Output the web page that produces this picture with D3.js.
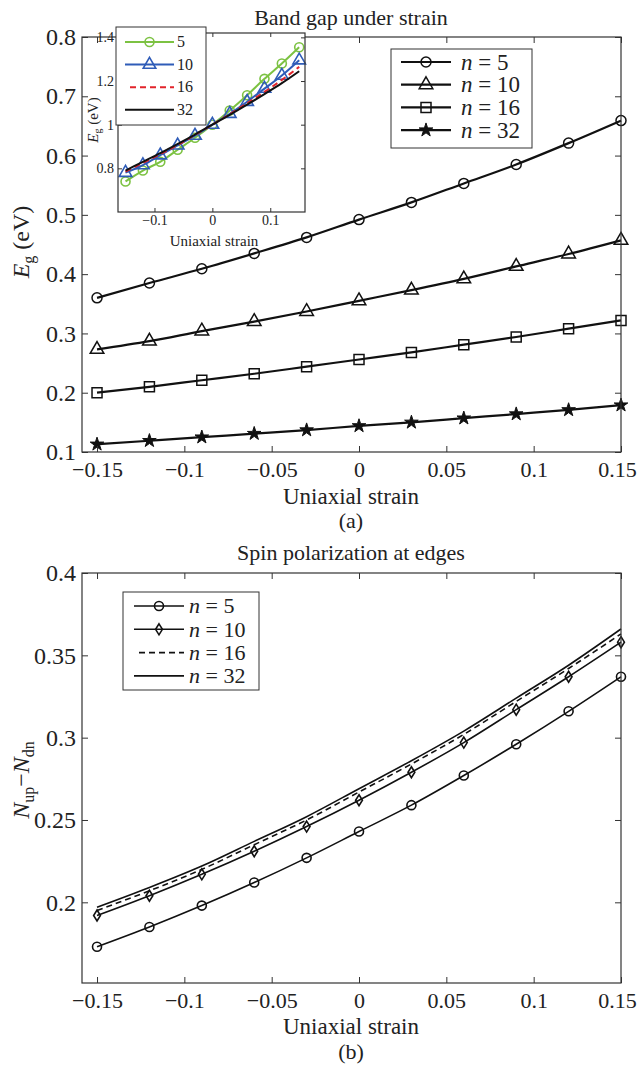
<!DOCTYPE html>
<html>
<head>
<meta charset="utf-8">
<script src="https://cdn.jsdelivr.net/npm/d3@7"></script>
<style>
  body { margin: 0; background: #fff; }
  svg text { font-family: "Liberation Serif", "Times New Roman", serif !important; fill: #222; }
</style>
</head>
<body>
<script>
// strain sample points (shared by every series)
const strainPts = [-0.15, -0.12, -0.09, -0.06, -0.03, 0, 0.03, 0.06, 0.09, 0.12, 0.15];

// (a) band gap, eV
const gapN5 = [0.360, 0.385, 0.409, 0.435, 0.462, 0.492, 0.521, 0.553, 0.585, 0.621, 0.659];
const gapN10 = [0.273, 0.287, 0.304, 0.320, 0.337, 0.355, 0.373, 0.392, 0.413, 0.434, 0.457];
const gapN16 = [0.200, 0.210, 0.221, 0.232, 0.244, 0.256, 0.268, 0.281, 0.294, 0.308, 0.322];
const gapN32 = [0.113, 0.119, 0.125, 0.131, 0.137, 0.144, 0.150, 0.157, 0.164, 0.171, 0.179];

// (a) inset, normalised gap
const insetN5 = [0.74, 0.79, 0.83, 0.885, 0.94, 1.0, 1.065, 1.135, 1.21, 1.28, 1.355];
const insetN10 = [0.78, 0.815, 0.86, 0.905, 0.95, 1.0, 1.05, 1.105, 1.165, 1.225, 1.295];
const insetN16 = [0.785, 0.825, 0.865, 0.907, 0.953, 1.0, 1.048, 1.098, 1.15, 1.205, 1.265];
const insetN32 = [0.79, 0.83, 0.87, 0.912, 0.955, 1.0, 1.045, 1.092, 1.14, 1.19, 1.245];

// (b) spin polarization
const spinN5 = [0.173, 0.185, 0.198, 0.212, 0.227, 0.243, 0.259, 0.277, 0.296, 0.316, 0.337];
const spinN10 = [0.192, 0.204, 0.217, 0.231, 0.246, 0.262, 0.279, 0.297, 0.317, 0.337, 0.358];
const spinN16 = [0.195, 0.207, 0.220, 0.235, 0.250, 0.267, 0.284, 0.302, 0.322, 0.342, 0.363];
const spinN32 = [0.197, 0.209, 0.222, 0.237, 0.252, 0.269, 0.286, 0.304, 0.324, 0.344, 0.366];

// ticks
const xTicks = [-0.15, -0.1, -0.05, 0, 0.05, 0.1, 0.15];
const gapTicks = [0.1, 0.2, 0.3, 0.4, 0.5, 0.6, 0.7, 0.8];
const spinTicks = [0.2, 0.25, 0.3, 0.35, 0.4];
const insetXTicks = [-0.1, 0, 0.1];
const insetYTicks = [0.8, 1, 1.2, 1.4];

const width = 639, height = 1077;
const fmt = d3.format("~g");
const serif = '"Liberation Serif", "Times New Roman", serif';

const svg = d3.select("body").append("svg")
  .attr("width", width)
  .attr("height", height)
  .attr("viewBox", `0 0 ${width} ${height}`)
  .attr("font-family", serif);

svg.append("rect").attr("width", width).attr("height", height).attr("fill", "#fff");

// frame + inward ticks on all four sides, MATLAB style
function drawFrame(g, x, y, xt, yt, opts) {
  const [x0, x1] = x.range();
  const [y0, y1] = y.range(); // y0 bottom
  const tl = opts.tick;
  const xAxis = g.append("g").attr("transform", `translate(0,${y0})`)
    .call(d3.axisBottom(x).tickValues(xt).tickSizeInner(-tl).tickSizeOuter(0)
      .tickPadding(opts.xPad).tickFormat(fmt))
    .call(a => a.attr("font-family", serif).select(".domain").remove())
    .call(a => a.selectAll("text").attr("font-size", opts.xFont || opts.font).attr("fill", "#222"));
  // keep the rightmost label inside the page
  if (opts.lastDx) xAxis.selectAll("text").filter((d, i, n) => i === n.length - 1).attr("dx", opts.lastDx);
  g.append("g").attr("transform", `translate(0,${y1})`)
    .call(d3.axisTop(x).tickValues(xt).tickSizeInner(-tl).tickSizeOuter(0).tickFormat(""))
    .call(a => a.select(".domain").remove());
  g.append("g").attr("transform", `translate(${x0},0)`)
    .call(d3.axisLeft(y).tickValues(yt).tickSizeInner(-tl).tickSizeOuter(0)
      .tickPadding(opts.yPad).tickFormat(fmt))
    .call(a => a.attr("font-family", serif).select(".domain").remove())
    .call(a => a.selectAll("text").attr("font-size", opts.font).attr("fill", "#222"));
  g.append("g").attr("transform", `translate(${x1},0)`)
    .call(d3.axisRight(y).tickValues(yt).tickSizeInner(-tl).tickSizeOuter(0).tickFormat(""))
    .call(a => a.select(".domain").remove());
  g.selectAll(".tick line").attr("stroke", "#333").attr("stroke-width", 1);
  g.append("rect")
    .attr("x", x0).attr("y", y1).attr("width", x1 - x0).attr("height", y0 - y1)
    .attr("fill", "none").attr("stroke", "#333").attr("stroke-width", 1.2);
}

const markerPath = {
  circle: r => d3.symbol(d3.symbolCircle, Math.PI * r * r)(),
  triangle: r => d3.symbol(d3.symbolTriangle, r * r * 1.9)(),
  square: r => d3.symbol(d3.symbolSquare, 4 * r * r)(),
  star: r => d3.symbol(d3.symbolStar, r * r * 1.6)(),
  diamond: r => `M0,${-r}L${r * 0.62},0L0,${r}L${-r * 0.62},0Z`,
};

function drawSeries(g, x, y, vals, s) {
  const pts = strainPts.map((t, i) => [t, vals[i]]);
  const line = d3.line().x(d => x(d[0])).y(d => y(d[1])).curve(d3.curveMonotoneX);
  g.append("path").datum(pts).attr("d", line)
    .attr("fill", "none").attr("stroke", s.color).attr("stroke-width", s.width)
    .attr("stroke-dasharray", s.dash || null);
  if (s.marker) {
    g.selectAll(null).data(pts).join("path")
      .attr("transform", d => `translate(${x(d[0])},${y(d[1])})`)
      .attr("d", markerPath[s.marker](s.size))
      .attr("fill", s.fill || "none")
      .attr("stroke", s.color).attr("stroke-width", s.mw || 1.5);
  }
}

function drawLegend(g, box, rows, opts) {
  g.append("rect").attr("x", box.x).attr("y", box.y).attr("width", box.w).attr("height", box.h)
    .attr("fill", "#fff").attr("stroke", "#333").attr("stroke-width", 1);
  rows.forEach((r, i) => {
    const yy = opts.y0 + i * opts.dy;
    g.append("line").attr("x1", r.s.dash ? opts.lx0 + 5 : opts.lx0).attr("x2", opts.lx1)
      .attr("y1", yy).attr("y2", yy)
      .attr("stroke", r.s.color).attr("stroke-width", r.s.width)
      .attr("stroke-dasharray", r.s.dash || null);
    if (r.s.marker) {
      g.append("path").attr("transform", `translate(${(opts.lx0 + opts.lx1) / 2},${yy})`)
        .attr("d", markerPath[r.s.marker](r.s.size))
        .attr("fill", r.s.fill || "none").attr("stroke", r.s.color)
        .attr("stroke-width", r.s.mw || 1.5);
    }
    const t = g.append("text").attr("x", opts.tx).attr("y", yy + opts.font * 0.33)
      .attr("font-size", opts.font);
    if (opts.italicN) {
      t.append("tspan").attr("font-style", "italic").text("n");
      t.append("tspan").text(" = " + r.label);
    } else {
      t.text(r.label);
    }
  });
}

// ---------------- (a) band gap ----------------
const xa = d3.scaleLinear().domain([-0.1586, 0.15]).range([82, 621]);
const ya = d3.scaleLinear().domain([0.1, 0.8]).range([452, 37]);
const ga = svg.append("g");

const gapStyles = [
  { vals: gapN5, label: "5", s: { color: "#111", width: 2.2, marker: "circle", size: 5 } },
  { vals: gapN10, label: "10", s: { color: "#111", width: 2.2, marker: "triangle", size: 6.5 } },
  { vals: gapN16, label: "16", s: { color: "#111", width: 2.2, marker: "square", size: 5 } },
  { vals: gapN32, label: "32", s: { color: "#111", width: 2.2, marker: "star", size: 6, fill: "#111", mw: 1 } },
];
gapStyles.forEach(d => drawSeries(ga, xa, ya, d.vals, d.s));
drawFrame(ga, xa, ya, xTicks, gapTicks, { tick: 6, font: 24, xFont: 22, xPad: 9, yPad: 6, lastDx: -4 });

ga.append("text").attr("x", 351).attr("y", 25).attr("text-anchor", "middle")
  .attr("font-size", 22).text("Band gap under strain");
ga.append("text").attr("x", 351).attr("y", 504).attr("text-anchor", "middle")
  .attr("font-size", 23).text("Uniaxial strain");
ga.append("text").attr("x", 351).attr("y", 528).attr("text-anchor", "middle")
  .attr("font-size", 22).text("(a)");
const yla = ga.append("text").attr("transform", "translate(29,242) rotate(-90)")
  .attr("text-anchor", "middle").attr("font-size", 24);
yla.append("tspan").attr("font-style", "italic").text("E");
yla.append("tspan").attr("font-size", 16).attr("dy", 5).text("g");
yla.append("tspan").attr("dy", -5).text(" (eV)");

drawLegend(ga, { x: 391, y: 49, w: 141, h: 99 }, gapStyles,
  { y0: 62, dy: 22.7, lx0: 401, lx1: 451, tx: 461, font: 23, italicN: true });

// ---------------- (a) inset ----------------
const xi = d3.scaleLinear().domain([-0.163, 0.16]).range([118, 305]);
const yi = d3.scaleLinear().domain([0.6, 1.42]).range([212, 33]);
const gi = svg.append("g");
gi.append("rect").attr("x", 118).attr("y", 33).attr("width", 187).attr("height", 179).attr("fill", "#fff");

const insetStyles = [
  { vals: insetN5, label: "5", s: { color: "#7cc242", width: 2, marker: "circle", size: 4.5, mw: 1.6 } },
  { vals: insetN10, label: "10", s: { color: "#2f5cb8", width: 2, marker: "triangle", size: 6, mw: 1.6 } },
  { vals: insetN16, label: "16", s: { color: "#e2242b", width: 2, dash: "6,4" } },
  { vals: insetN32, label: "32", s: { color: "#111", width: 2 } },
];
insetStyles.forEach(d => drawSeries(gi, xi, yi, d.vals, d.s));
drawFrame(gi, xi, yi, insetXTicks, insetYTicks, { tick: 4, font: 14, xPad: 3, yPad: 4 });

gi.append("text").attr("x", 214).attr("y", 246).attr("text-anchor", "middle")
  .attr("font-size", 15).text("Uniaxial strain");
const yli = gi.append("text").attr("transform", "translate(98,120) rotate(-90)")
  .attr("text-anchor", "middle").attr("font-size", 15);
yli.append("tspan").attr("font-style", "italic").text("E");
yli.append("tspan").attr("font-size", 10).attr("dy", 3).text("g");
yli.append("tspan").attr("dy", -3).text(" (eV)");

drawLegend(gi, { x: 116, y: 27, w: 90, h: 98 }, insetStyles,
  { y0: 42, dy: 22.6, lx0: 125, lx1: 174, tx: 177, font: 16, italicN: false });

// ---------------- (b) spin polarization ----------------
const xb = d3.scaleLinear().domain([-0.1586, 0.15]).range([82, 621]);
const yb = d3.scaleLinear().domain([0.151, 0.4]).range([983, 573]);
const gb = svg.append("g");

const spinStyles = [
  { vals: spinN5, label: "5", s: { color: "#111", width: 1.6, marker: "circle", size: 4.5, mw: 1.6 } },
  { vals: spinN10, label: "10", s: { color: "#111", width: 1.6, marker: "diamond", size: 5.5, mw: 1.6 } },
  { vals: spinN16, label: "16", s: { color: "#111", width: 1.6, dash: "6,4" } },
  { vals: spinN32, label: "32", s: { color: "#111", width: 1.6 } },
];
spinStyles.forEach(d => drawSeries(gb, xb, yb, d.vals, d.s));
drawFrame(gb, xb, yb, xTicks, spinTicks, { tick: 6, font: 24, xFont: 22, xPad: 9, yPad: 6, lastDx: -4 });

gb.append("text").attr("x", 351).attr("y", 560).attr("text-anchor", "middle")
  .attr("font-size", 22).text("Spin polarization at edges");
gb.append("text").attr("x", 351).attr("y", 1034).attr("text-anchor", "middle")
  .attr("font-size", 23).text("Uniaxial strain");
gb.append("text").attr("x", 351).attr("y", 1059).attr("text-anchor", "middle")
  .attr("font-size", 22).text("(b)");
const ylb = gb.append("text").attr("transform", "translate(29,780) rotate(-90)")
  .attr("text-anchor", "middle").attr("font-size", 24);
ylb.append("tspan").attr("font-style", "italic").text("N");
ylb.append("tspan").attr("font-size", 16).attr("dy", 5).text("up");
ylb.append("tspan").attr("dy", -5).text("\u2212");
ylb.append("tspan").attr("font-style", "italic").text("N");
ylb.append("tspan").attr("font-size", 16).attr("dy", 5).text("dn");

drawLegend(gb, { x: 123, y: 592, w: 136, h: 98 }, spinStyles,
  { y0: 606, dy: 23.3, lx0: 134, lx1: 184, tx: 189, font: 22, italicN: true });
</script>
</body>
</html>
